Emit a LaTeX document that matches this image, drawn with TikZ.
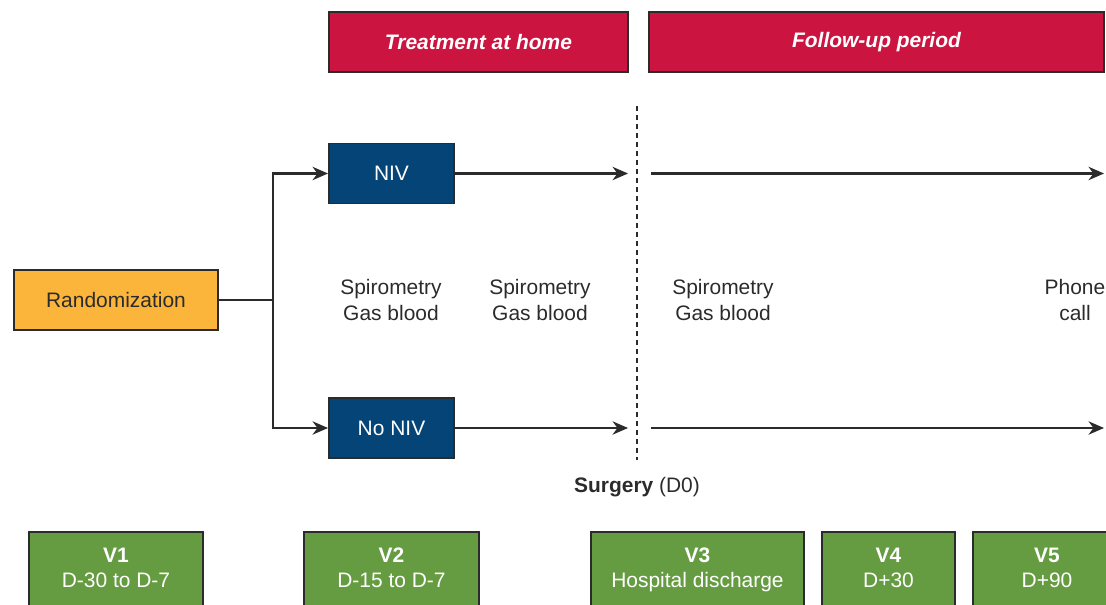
\documentclass[tikz,border=0pt]{standalone}
\usepackage{fontspec}
\setmainfont{Liberation Sans}
\usetikzlibrary{arrows.meta}
\definecolor{homered}{HTML}{CC1440}
\definecolor{nivblue}{HTML}{054477}
\definecolor{randorange}{HTML}{FBB53A}
\definecolor{visitgreen}{HTML}{669C41}
\definecolor{inkgray}{HTML}{2B2B2B}
\newcommand{\visitlabel}[2]{\textbf{#1}\strut\\#2\strut}

\begin{document}
\begin{tikzpicture}[x=0.025cm, y=-0.025cm, inkgray,
  font=\fontsize{14.9}{17.8}\selectfont,
  box/.style={draw=inkgray, line width=1.4pt, minimum height=1.5cm, inner sep=0pt, align=center},
  phase/.style={box, fill=homered, text=white, font=\fontsize{14.9}{17.8}\selectfont\bfseries\itshape},
  arm/.style={box, fill=nivblue, text=white, minimum width=3.125cm},
  visit/.style={box, fill=visitgreen, text=white, anchor=north, minimum height=1.9cm},
  arr/.style={line width=1.5pt, -{Stealth[length=11pt, width=9.5pt, inset=3.5pt]}}]
\useasboundingbox (0,0) rectangle (1106,605);

% phases
\node[phase, minimum width=7.475cm] (home) at (478.5,42) {Treatment at home};
\node[phase, minimum width=11.375cm] (follow) at (876.5,42) {Follow-up period};

% randomization and arms
\node[box, fill=randorange, text=inkgray, minimum width=5.1cm] (rand) at (116,300) {Randomization};
\node[arm] (niv) at (391.5,173.5) {NIV};
\node[arm] (noniv) at (391.5,428) {No NIV};

\coordinate (split) at (273,300);
\draw[line width=1.5pt] (rand.east) -- (split);
\draw[arr] (split) |- (niv.west);
\draw[arr] (split) |- (noniv.west);

% surgery cut
\coordinate (cuttop) at (637,106);
\coordinate (cutbot) at (637,460);
\draw[line width=0.9pt, dash pattern=on 3.8pt off 2.6pt] (cuttop) -- (cutbot);
\node (surgery) at (637,487) {\textbf{Surgery} (D0)};

% timelines
\coordinate (nivstop) at (628,173.5);
\coordinate (nivgo) at (651,173.5);
\coordinate (nivend) at (1104,173.5);
\coordinate (nonivstop) at (628,428);
\coordinate (nonivgo) at (651,428);
\coordinate (nonivend) at (1104,428);
\draw[arr] (niv.east) -- (nivstop);
\draw[arr] (nivgo) -- (nivend);
\draw[arr] (noniv.east) -- (nonivstop);
\draw[arr] (nonivgo) -- (nonivend);

% exams
\node[align=center] (exam1) at (391,300) {Spirometry\\Gas blood};
\node[align=center] (exam2) at (540,300) {Spirometry\\Gas blood};
\node[align=center] (exam3) at (723,300) {Spirometry\\Gas blood};
\node[align=center] (phone) at (1075,300) {Phone\\call};

% visits
\node[visit, minimum width=4.35cm] (v1) at (116,531) {\visitlabel{V1}{D-30 to D-7}};
\node[visit, minimum width=4.375cm] (v2) at (391.5,531) {\visitlabel{V2}{D-15 to D-7}};
\node[visit, minimum width=5.325cm] (v3) at (697.5,531) {\visitlabel{V3}{Hospital discharge}};
\node[visit, minimum width=3.325cm] (v4) at (888.5,531) {\visitlabel{V4}{D+30}};
\node[visit, minimum width=3.7cm] (v5) at (1047,531) {\visitlabel{V5}{D+90}};
\end{tikzpicture}
\end{document}
